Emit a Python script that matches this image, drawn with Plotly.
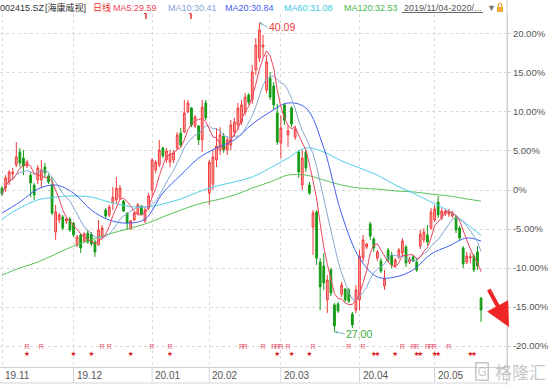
import plotly.graph_objects as go
import pandas as pd

# ---------------- data (prices, CNY) ----------------
BASE_CLOSE = 33.00  # reference close for the percent axis (0%)

opens = [33.08, 33.08, 33.34, 33.68, 34.06, 34.61, 34.35, 34.02, 33.63, 33.21,
         33.42, 33.42, 33.97, 33.59, 33.21, 31.22, 31.73, 31.86, 31.69, 31.77,
         31.60, 30.67, 31.10, 30.84, 31.18, 31.14, 30.80, 30.67, 31.05, 32.15,
         31.94, 32.49, 32.58, 32.66, 32.53, 32.03, 31.35, 31.73, 31.98, 32.32,
         31.69, 32.24, 33.00, 33.85, 34.06, 34.78, 34.27, 34.18, 34.27, 34.78,
         35.41, 35.45, 36.30, 36.47, 35.71, 35.71, 35.12, 36.68, 32.87, 33.25,
         34.27, 34.69, 35.28, 34.69, 34.90, 35.45, 35.75, 35.88, 36.30, 37.02,
         36.81, 38.08, 38.58, 39.05, 37.23, 37.74, 37.40, 36.26, 34.99, 36.60,
         35.33, 36.47, 35.24, 34.61, 33.21, 34.61, 33.21, 31.43, 32.07, 29.95,
         29.79, 28.35, 29.62, 28.14, 28.18, 28.60, 28.81, 28.77, 27.75, 27.92,
         28.35, 30.12, 30.59, 31.56, 30.93, 30.12, 30.00, 28.94, 30.46, 30.25,
         29.79, 30.17, 30.34, 30.59, 29.95, 30.17, 29.95, 30.63, 30.89, 31.10,
         31.39, 31.73, 32.49, 31.82, 31.98, 31.98, 31.90, 31.86, 31.39, 30.55,
         29.95, 30.12, 30.21, 30.38, 28.43]

highs = [33.17, 33.63, 33.85, 33.93, 35.03, 34.78, 34.69, 34.27, 33.76, 33.30,
         34.06, 34.27, 34.14, 33.68, 33.55, 32.37, 32.03, 31.94, 31.86, 31.86,
         31.65, 31.10, 31.18, 31.22, 31.31, 31.22, 30.89, 31.73, 31.52, 32.24,
         32.37, 33.13, 33.55, 33.21, 32.58, 32.03, 31.73, 32.07, 32.45, 32.37,
         32.24, 32.87, 34.35, 34.27, 35.12, 34.82, 34.78, 34.69, 34.69, 35.45,
         35.62, 36.81, 36.81, 36.51, 36.17, 35.75, 36.81, 36.81, 34.27, 34.69,
         35.62, 35.66, 35.41, 35.24, 35.96, 36.05, 36.68, 36.81, 37.10, 37.10,
         38.29, 39.43, 40.09, 39.56, 38.71, 37.99, 37.57, 36.64, 36.17, 36.68,
         35.75, 36.55, 35.71, 34.69, 34.69, 34.69, 33.34, 32.15, 32.15, 30.12,
         30.34, 29.40, 29.70, 28.22, 28.26, 29.11, 28.85, 28.85, 27.84, 28.98,
         30.46, 31.10, 30.76, 31.65, 31.01, 30.46, 30.12, 29.62, 30.55, 30.38,
         30.12, 30.55, 30.97, 30.67, 30.17, 30.25, 30.12, 31.31, 31.39, 31.52,
         32.24, 32.37, 32.75, 32.24, 32.20, 32.20, 32.11, 31.94, 31.48, 30.63,
         30.38, 30.34, 30.29, 30.63, 28.47]

lows = [32.75, 32.92, 33.21, 33.42, 33.97, 33.97, 33.63, 33.93, 32.70, 32.58,
        33.25, 33.08, 33.55, 33.25, 31.94, 30.89, 31.60, 31.31, 31.56, 31.22,
        31.01, 30.59, 30.34, 30.76, 30.72, 30.63, 30.17, 30.67, 30.97, 31.82,
        31.86, 32.15, 32.45, 32.58, 32.07, 31.31, 31.31, 31.69, 31.94, 31.94,
        31.60, 32.15, 32.70, 33.72, 33.97, 34.35, 34.14, 33.97, 34.14, 34.69,
        34.82, 35.41, 36.26, 35.66, 35.62, 34.90, 34.61, 35.96, 32.37, 33.00,
        33.97, 34.48, 34.57, 34.48, 34.69, 35.24, 35.54, 35.75, 36.17, 36.60,
        36.64, 37.86, 38.41, 38.63, 37.10, 36.81, 36.38, 34.90, 34.35, 35.75,
        34.82, 35.66, 35.12, 33.51, 33.00, 33.76, 32.79, 30.25, 29.83, 27.92,
        28.77, 27.80, 28.52, 27.00, 27.80, 28.47, 28.26, 28.22, 27.16, 27.80,
        27.92, 29.95, 30.50, 30.89, 30.38, 30.00, 29.49, 28.77, 29.95, 29.70,
        29.70, 30.08, 30.17, 29.74, 29.87, 29.95, 29.53, 30.50, 30.76, 30.67,
        31.31, 31.65, 31.82, 31.73, 31.90, 31.86, 31.82, 31.18, 30.84, 29.70,
        29.87, 29.91, 29.53, 29.62, 27.42]

closes = [32.83, 33.51, 33.76, 33.76, 34.40, 34.14, 34.02, 34.18, 33.30, 32.79,
          33.93, 33.85, 33.72, 33.34, 32.03, 32.07, 31.94, 31.39, 31.77, 31.31,
          31.10, 31.01, 30.55, 31.14, 30.80, 30.72, 30.38, 31.31, 31.39, 31.90,
          32.28, 32.70, 33.08, 33.08, 32.11, 31.60, 31.69, 32.03, 32.37, 31.98,
          32.15, 32.75, 34.27, 34.18, 34.69, 34.44, 34.65, 34.52, 34.57, 35.33,
          34.90, 36.26, 36.68, 35.75, 36.09, 35.12, 36.51, 36.05, 34.18, 34.40,
          34.86, 35.33, 34.69, 35.12, 35.75, 35.88, 36.47, 36.60, 36.93, 36.72,
          37.99, 39.13, 39.77, 39.13, 38.41, 36.93, 36.60, 35.03, 35.62, 35.96,
          35.50, 35.79, 35.58, 33.76, 34.35, 33.93, 32.87, 32.03, 30.12, 28.90,
          29.07, 29.19, 28.64, 27.25, 27.88, 28.98, 28.35, 28.30, 27.29, 28.77,
          30.21, 30.89, 30.72, 31.05, 30.55, 30.38, 29.57, 29.24, 30.04, 29.83,
          30.04, 30.46, 30.84, 29.91, 30.08, 30.00, 29.62, 31.14, 31.22, 30.80,
          32.07, 32.20, 31.94, 32.11, 32.11, 32.07, 32.03, 31.31, 30.97, 29.87,
          30.21, 30.17, 29.62, 29.79, 27.92]

ma_sample_idx = [0, 5, 10, 15, 20, 25, 30, 35, 40, 45, 50, 55, 60, 65, 70,
                 75, 80, 85, 90, 95, 100, 105, 110, 115, 120, 125, 130, 134]
ma20_vals = [32.03, 32.49, 33.04, 33.21, 32.87, 32.15, 31.73, 31.60, 31.77, 32.87,
             33.63, 34.35, 34.78, 35.12, 35.79, 36.30, 36.68, 36.47, 34.78, 31.98,
             30.12, 29.32, 29.32, 29.62, 30.29, 30.63, 30.97, 30.84]
ma60_vals = [31.77, 32.24, 32.58, 32.70, 32.75, 32.70, 32.49, 32.32, 32.28, 32.41,
             32.62, 32.92, 33.17, 33.34, 33.55, 33.93, 34.35, 34.78, 34.61, 34.23,
             33.93, 33.63, 33.21, 32.87, 32.49, 32.11, 31.56, 31.08]
ma120_vals = [29.40, 29.70, 29.95, 30.29, 30.63, 30.89, 31.14, 31.35, 31.56, 31.86,
              32.15, 32.41, 32.58, 32.79, 33.08, 33.34, 33.63, 33.63, 33.42, 33.21,
              33.08, 33.04, 32.96, 32.92, 32.83, 32.75, 32.62, 32.53]

month_labels = ['19.11', '19.12', '20.01', '20.02', '20.03', '20.04', '20.05']
month_start = [0, 20, 42, 58, 78, 100, 121]

r_days = [7, 11, 28, 30, 42, 47, 67, 68, 73, 76, 77, 78, 80, 87, 97, 101,
          112, 115, 116, 119, 120, 121, 125]
star_days = [7, 20, 25, 36, 47, 77, 81, 86, 104, 105, 110, 116, 117, 121, 122, 131, 132]

pct_ticks = [-20, -15, -10, -5, 0, 5, 10, 15, 20]

legend_texts = ["002415.SZ", "[海康威视]", "日线", "MA5:29.59", "MA10:30.41",
                "MA20:30.84", "MA60:31.08", "MA120:32.53", "2019/11/04-2020/...", "▼"]

# ---------------- figure ----------------
W, H = 554, 385
ML, MR, MT, MB = 0, 47, 14, 18
PW, PH = W - ML - MR, H - MT - MB


def px(xp):
    return xp / PW


def py(yp):
    return (H - MB - yp) / PH


x = list(range(len(closes)))
s = pd.Series(closes)
ma5 = s.rolling(5, min_periods=1).mean()
ma10 = s.rolling(10, min_periods=1).mean()

fig = go.Figure()
fig.add_trace(go.Candlestick(
    x=x, open=opens, high=highs, low=lows, close=closes,
    increasing=dict(line=dict(color='#f23b3b', width=1), fillcolor='rgba(255,110,110,0.6)'),
    decreasing=dict(line=dict(color='#169c16', width=1), fillcolor='#169c16'),
    whiskerwidth=0, showlegend=False, hoverinfo='skip'))

fig.add_trace(go.Scatter(x=ma_sample_idx, y=ma120_vals, mode='lines',
                         line=dict(color='#5cc35c', width=1, shape='spline'), hoverinfo='skip'))
fig.add_trace(go.Scatter(x=ma_sample_idx, y=ma60_vals, mode='lines',
                         line=dict(color='#4fd0ea', width=1, shape='spline'), hoverinfo='skip'))
fig.add_trace(go.Scatter(x=ma_sample_idx, y=ma20_vals, mode='lines',
                         line=dict(color='#3f5ff0', width=1, shape='spline'), hoverinfo='skip'))
fig.add_trace(go.Scatter(x=x, y=ma10, mode='lines',
                         line=dict(color='#85a8d2', width=1), hoverinfo='skip'))
fig.add_trace(go.Scatter(x=x, y=ma5, mode='lines',
                         line=dict(color='#ec4560', width=1), hoverinfo='skip'))

y_lo = BASE_CLOSE - (H - MB - 190) * 0.0423
y_hi = BASE_CLOSE + (190 - MT) * 0.0423
R_Y = BASE_CLOSE - (347 - 190) * 0.0423
S_Y = BASE_CLOSE - (354 - 190) * 0.0423

fig.add_trace(go.Scatter(x=r_days, y=[R_Y] * len(r_days), mode='text', text=['R'] * len(r_days),
                         textfont=dict(size=7, color='#e8506a', family='Liberation Sans'),
                         hoverinfo='skip'))
fig.add_trace(go.Scatter(x=star_days, y=[S_Y] * len(star_days), mode='text',
                         text=['★'] * len(star_days),
                         textfont=dict(size=6.5, color='#e01a1a', family='DejaVu Sans'),
                         hoverinfo='skip'))

tickvals = [BASE_CLOSE * (1 + p / 100) for p in pct_ticks]
ticktext = ['0%' if p == 0 else f'{p:.2f}%' for p in pct_ticks]

fig.update_layout(
    width=W, height=H, margin=dict(l=ML, r=MR, t=MT, b=MB),
    paper_bgcolor='white', plot_bgcolor='white', showlegend=False, hovermode=False,
    font=dict(family='Liberation Sans, Noto Sans CJK SC, sans-serif', size=9, color='#555'),
    xaxis=dict(range=[-0.56, 141.26], tickvals=month_start, showticklabels=False,
               showgrid=True, gridcolor='#dadada', griddash='dot', gridwidth=1,
               zeroline=False, showline=True, linecolor='#cfcfcf', ticks='',
               rangeslider=dict(visible=False), fixedrange=True),
    yaxis=dict(side='right', range=[y_lo, y_hi], tickvals=tickvals, ticktext=ticktext,
               showgrid=True, gridcolor='#dadada', griddash='dot', gridwidth=1,
               zeroline=False, showline=True, linecolor='#cfcfcf',
               ticks='outside', ticklen=3, tickcolor='#cfcfcf',
               tickfont=dict(size=9.5, color='#555'), fixedrange=True),
)

shapes = []
band_bot = py(383)
for m in month_start[1:]:
    shapes.append(dict(type='line', xref='x', yref='paper', x0=m, x1=m, y0=0, y1=band_bot,
                       line=dict(color='#d5d5d5', width=1)))
shapes.append(dict(type='line', xref='paper', yref='paper', x0=0, x1=1, y0=band_bot, y1=band_bot,
                   line=dict(color='#d5d5d5', width=1)))
shapes.append(dict(type='line', xref='paper', yref='paper', x0=1, x1=1, y0=py(385), y1=py(0),
                   line=dict(color='#cfcfcf', width=1)))
# date range underline
shapes.append(dict(type='line', xref='paper', yref='paper', x0=px(402), x1=px(483),
                   y0=py(12.5), y1=py(12.5), line=dict(color='#666', width=1)))
# lock icon
shapes.append(dict(type='rect', xref='paper', yref='paper', x0=px(497), x1=px(503),
                   y0=py(12), y1=py(7), fillcolor='#f2a93b', line=dict(width=0)))
shapes.append(dict(type='path', xref='paper', yref='paper',
                   path=f'M {px(498.3)} {py(7)} L {px(498.3)} {py(4.5)} Q {px(500)} {py(1.5)} {px(501.7)} {py(4.5)} L {px(501.7)} {py(7)}',
                   line=dict(color='#f2a93b', width=1.2)))
# small red flags under the header
for fx in (144, 189):
    shapes.append(dict(type='line', xref='paper', yref='paper', x0=px(fx + 2), x1=px(fx + 2),
                       y0=py(13.5), y1=py(19), line=dict(color='#e83030', width=1.5)))
    shapes.append(dict(type='line', xref='paper', yref='paper', x0=px(fx), x1=px(fx + 2),
                       y0=py(13.5), y1=py(13.5), line=dict(color='#e83030', width=1.2)))
fig.update_layout(shapes=shapes)

ann = []
for lab, m in zip(month_labels, month_start):
    ann.append(dict(x=m, xref='x', y=py(375), yref='paper', text=lab, showarrow=False,
                    xanchor='left', yanchor='middle', xshift=1,
                    font=dict(size=10, color='#555')))

legend_x = [-2, 43, 91, 111, 166, 223, 282, 342, 402, 485]
legend_col = ['#333', '#333', '#f03030', '#ec4560', '#7fa5d6', '#3f5ff0', '#3fc8e6',
              '#4cb84c', '#555', '#777']
for t, lx, c in zip(legend_texts, legend_x, legend_col):
    ann.append(dict(x=px(lx), xref='paper', y=py(7.5), yref='paper', text=t, showarrow=False,
                    xanchor='left', yanchor='middle',
                    font=dict(size=9, color=c,
                              family='Liberation Sans, Noto Sans CJK SC, sans-serif')))

hi_i = max(range(len(highs)), key=lambda i: highs[i])
lo_i = min(range(len(lows)), key=lambda i: lows[i])
ann.append(dict(x=hi_i, y=highs[hi_i], xref='x', yref='y', text=f'{highs[hi_i]:.2f}',
                showarrow=True, arrowhead=2, arrowsize=0.6, arrowwidth=1, arrowcolor='#7fb0c8',
                ax=8, ay=5, xanchor='left', yanchor='middle',
                font=dict(size=10.5, color='#ee3b3b')))
ann.append(dict(x=lo_i, y=lows[lo_i], xref='x', yref='y', text=f'{lows[lo_i]:.2f}',
                showarrow=True, arrowhead=2, arrowsize=0.6, arrowwidth=1, arrowcolor='#7fb0c8',
                ax=10, ay=2, xanchor='left', yanchor='middle',
                font=dict(size=10.5, color='#3aa83a')))
# red trend arrow
ann.append(dict(xref='paper', yref='paper', x=px(509), y=py(327), ax=-21, ay=-39,
                text='', showarrow=True, arrowhead=2, arrowsize=1.2, arrowwidth=4,
                arrowcolor='#f02525'))
# watermark
ann.append(dict(xref='paper', yref='paper', x=px(493), y=py(371), text='格隆汇',
                showarrow=False, xanchor='left', yanchor='middle',
                font=dict(size=17, color='rgba(160,160,160,0.6)', family='Noto Sans CJK SC')))
ann.append(dict(xref='paper', yref='paper', x=px(482), y=py(371), text='G',
                showarrow=False, xanchor='center', yanchor='middle',
                bordercolor='rgba(160,160,160,0.6)', borderwidth=1.5, borderpad=1,
                font=dict(size=12, color='rgba(160,160,160,0.6)', family='Liberation Sans')))
fig.update_layout(annotations=ann)

fig.write_html("out.html", config={'displayModeBar': False},
               post_script="document.body.style.margin='0';document.body.style.padding='0';")
